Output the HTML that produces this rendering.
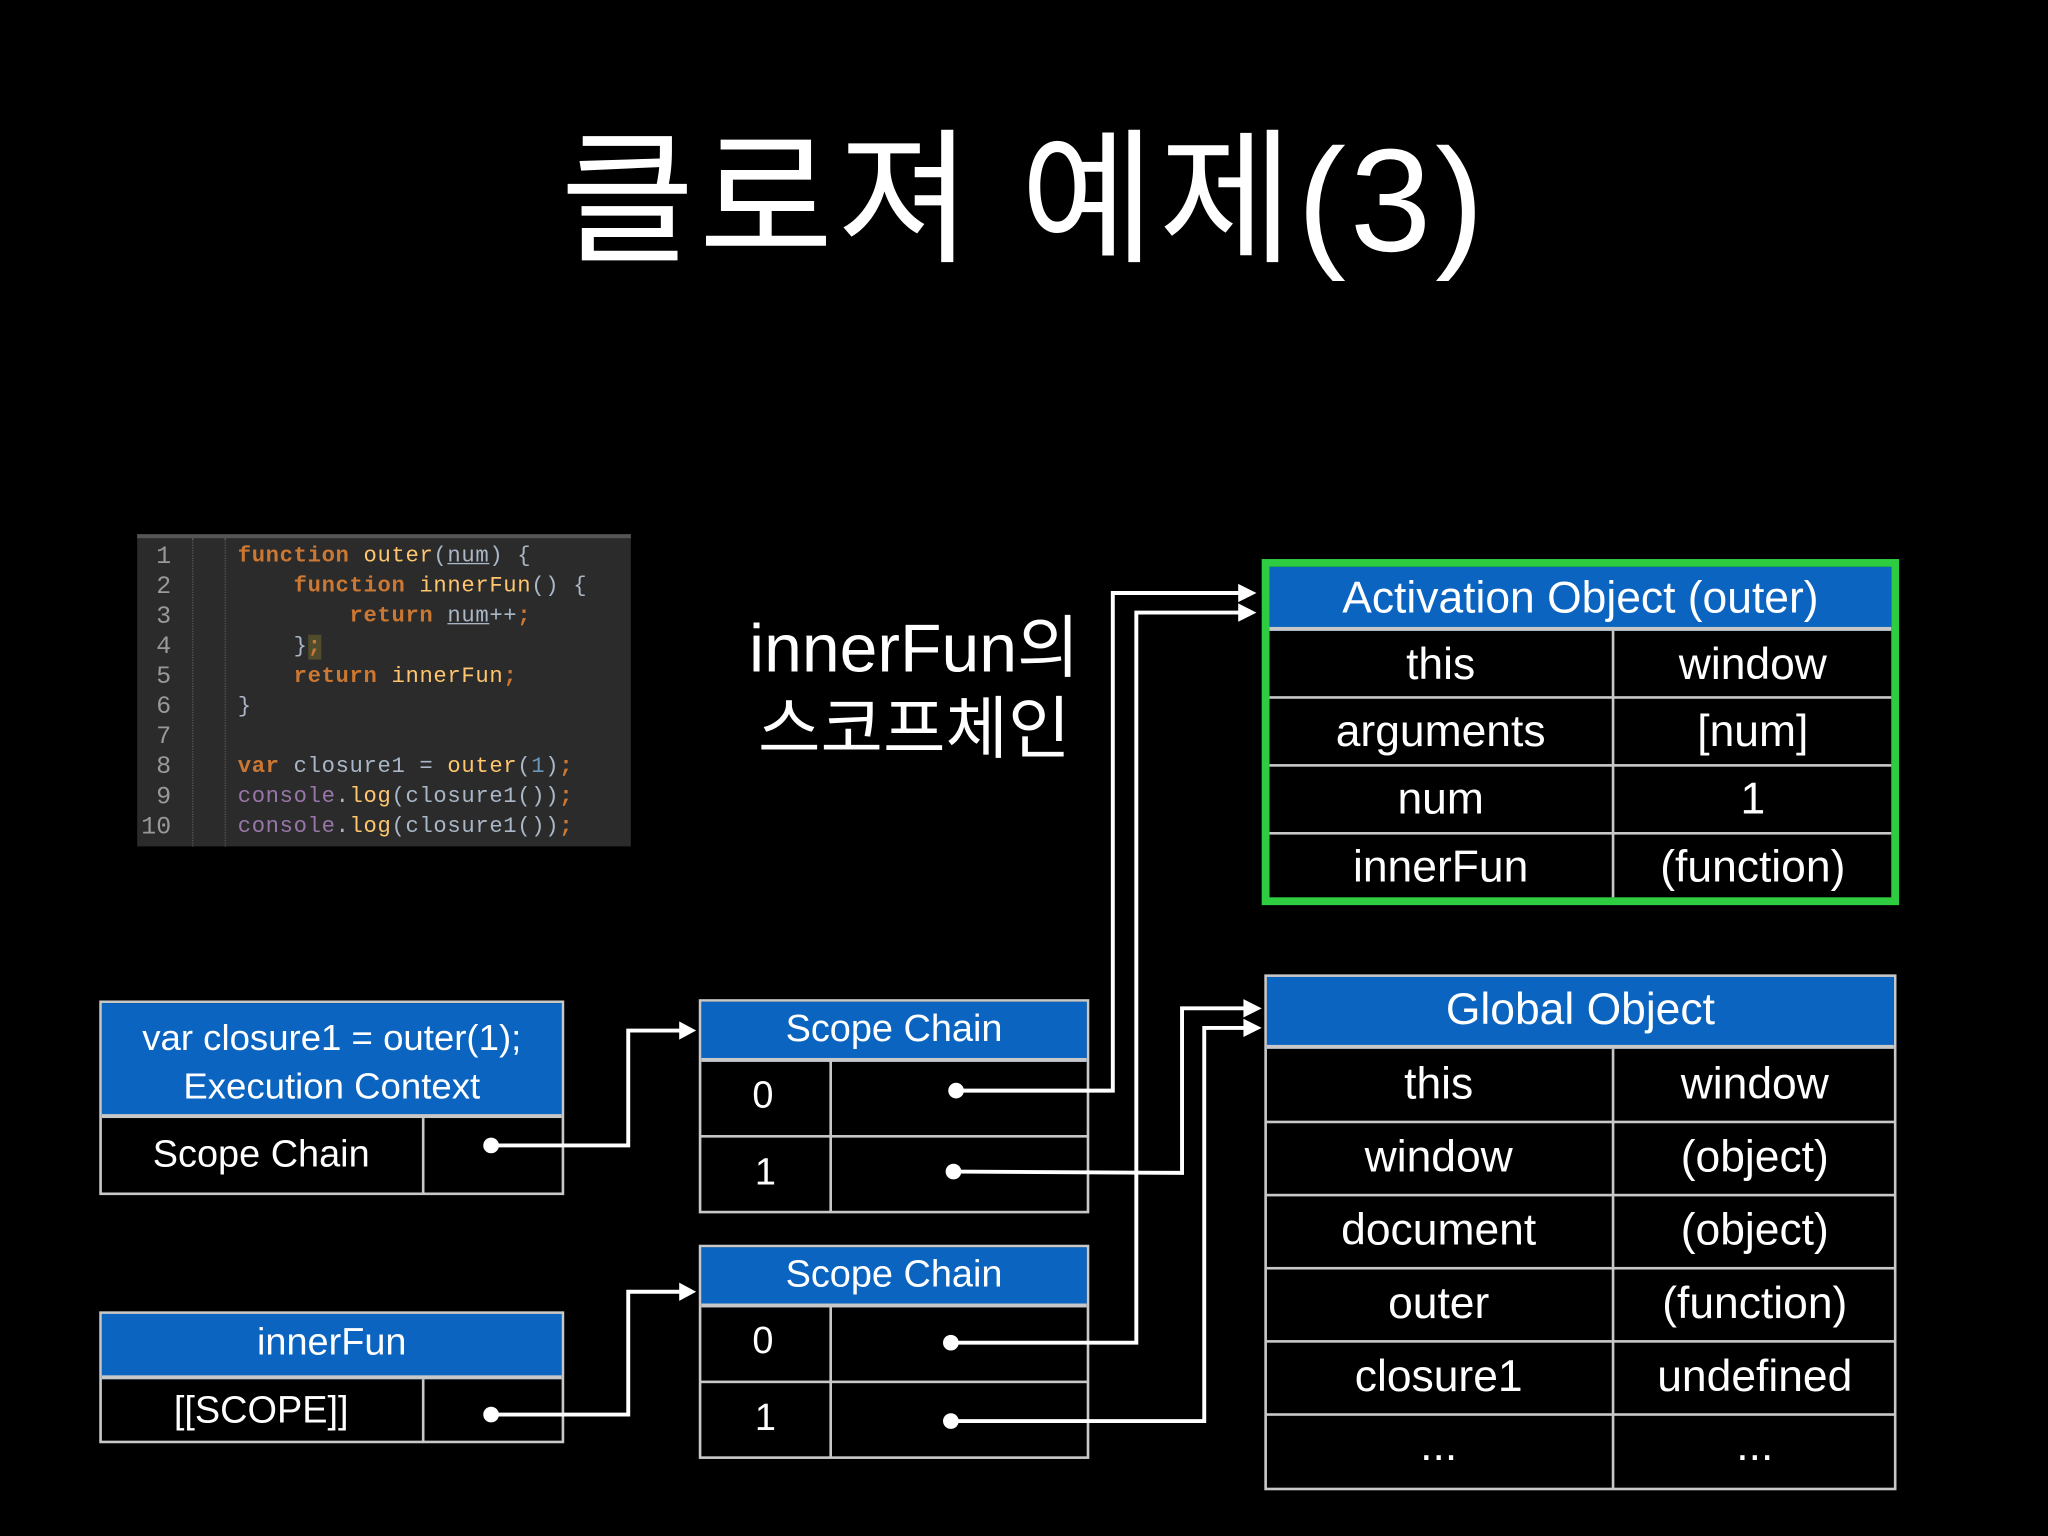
<!DOCTYPE html>
<html><head><meta charset="utf-8"><style>
html,body{margin:0;padding:0;background:#000;width:2048px;height:1536px;overflow:hidden}
#w{position:absolute;left:0;top:0;width:1568px;height:1176px;transform:scale(1.30612);transform-origin:0 0;font-family:"Liberation Sans","Noto Sans CJK KR",sans-serif;color:#fff}
.a{position:absolute}
.t{position:absolute;text-align:center;white-space:nowrap;line-height:1}
.hd{position:absolute;background:#0a64c0;border-bottom:3px solid #c8c8c8}
.bx{position:absolute;border:2px solid #c8c8c8;box-sizing:border-box}
.hl{position:absolute;height:2px;background:#c8c8c8}
.vl{position:absolute;width:2px;background:#c8c8c8}
.code{position:absolute;left:105px;top:409px;width:378px;height:239px;background:#2b2b2b;border-top:3px solid #555;box-sizing:border-box;font-family:"Liberation Mono",monospace;font-size:17px}
.code div{position:absolute;white-space:pre;line-height:23px}
.k{color:#cc7832;font-weight:bold}.f{color:#ffc66d}.p{color:#a9b7c6}.n{color:#6897bb}.c{color:#9876aa}
</style></head><body><div id="w">
<div class="t" style="left:0;width:1568px;top:98px;font-size:112px;letter-spacing:3px;font-weight:normal">클로져 예제(3)</div>

<div class="code">
<div style="left:0px;top:3px;color:#999;text-align:right;width:26px;font-size:19px">1
2
3
4
5
6
7
8
9
10</div>
<div class="a" style="left:42px;top:0;width:0;height:236px;border-left:1px dotted #555"></div>
<div class="a" style="left:67px;top:0;width:0;height:236px;border-left:1px dotted #555"></div>
<div style="left:77px;top:3px;letter-spacing:0.5px"><span class="k">function</span> <span class="f">outer</span><span class="p">(<u>num</u>) {</span>
<span class="k">    function</span> <span class="f">innerFun</span><span class="p">() {</span>
<span class="k">        return</span> <span class="p"><u>num</u>++</span><span class="k">;</span>
<span class="p">    }</span><span class="k" style="background:#514c2c">;</span>
<span class="k">    return</span> <span class="f">innerFun</span><span class="k">;</span>
<span class="p">}</span>

<span class="k">var</span> <span class="p">closure1 = </span><span class="f">outer</span><span class="p">(</span><span class="n">1</span><span class="p">)</span><span class="k">;</span>
<span class="c">console</span><span class="p">.</span><span class="f">log</span><span class="p">(closure1())</span><span class="k">;</span>
<span class="c">console</span><span class="p">.</span><span class="f">log</span><span class="p">(closure1())</span><span class="k">;</span></div>
</div>

<div class="t" style="left:540px;width:320px;top:466px;font-size:52px;line-height:62px">innerFun의<br>스코프체인</div>

<!-- Execution context -->
<div class="bx" style="left:76px;top:766px;width:356px;height:149px"></div>
<div class="hd" style="left:78px;top:768px;width:352px;height:85px"></div>
<div class="t" style="left:76px;width:356px;top:776px;font-size:28px;line-height:37px">var closure1 = outer(1);<br>Execution Context</div>
<div class="vl" style="left:323px;top:856px;height:58px"></div>
<div class="t" style="left:76px;width:248px;top:870px;font-size:29px">Scope Chain</div>

<!-- innerFun -->
<div class="bx" style="left:76px;top:1004px;width:356px;height:101px"></div>
<div class="hd" style="left:78px;top:1006px;width:352px;height:47px"></div>
<div class="t" style="left:76px;width:356px;top:1014px;font-size:29px">innerFun</div>
<div class="vl" style="left:323px;top:1056px;height:48px"></div>
<div class="t" style="left:76px;width:248px;top:1066px;font-size:29px">[[SCOPE]]</div>

<!-- Scope chain 1 -->
<div class="bx" style="left:535px;top:765px;width:299px;height:164px"></div>
<div class="hd" style="left:537px;top:767px;width:295px;height:43px"></div>
<div class="t" style="left:535px;width:299px;top:774px;font-size:29px">Scope Chain</div>
<div class="hl" style="left:536px;top:869px;width:297px"></div>
<div class="vl" style="left:635px;top:812px;height:116px"></div>
<div class="t" style="left:576px;top:825px;font-size:29px">0</div>
<div class="t" style="left:578px;top:884px;font-size:29px">1</div>

<!-- Scope chain 2 -->
<div class="bx" style="left:535px;top:953px;width:299px;height:164px"></div>
<div class="hd" style="left:537px;top:955px;width:295px;height:43px"></div>
<div class="t" style="left:535px;width:299px;top:962px;font-size:29px">Scope Chain</div>
<div class="hl" style="left:536px;top:1057px;width:297px"></div>
<div class="vl" style="left:635px;top:1000px;height:116px"></div>
<div class="t" style="left:576px;top:1013px;font-size:29px">0</div>
<div class="t" style="left:578px;top:1072px;font-size:29px">1</div>

<!-- Activation object -->
<div class="a" style="left:966px;top:428px;width:488px;height:265px;border:6px solid #2ecc40;box-sizing:border-box;background:#000"></div>
<div class="hd" style="left:972px;top:434px;width:476px;height:46px"></div>
<div class="t" style="left:972px;width:476px;top:441px;font-size:34px">Activation Object (outer)</div>
<div class="hl" style="left:972px;top:533px;width:476px"></div>
<div class="hl" style="left:972px;top:585px;width:476px"></div>
<div class="hl" style="left:972px;top:637px;width:476px"></div>
<div class="vl" style="left:1234px;top:483px;height:204px"></div>
<div class="t" style="left:972px;width:262px;top:492px;font-size:34px">this</div>
<div class="t" style="left:1236px;width:212px;top:492px;font-size:34px">window</div>
<div class="t" style="left:972px;width:262px;top:543px;font-size:34px">arguments</div>
<div class="t" style="left:1236px;width:212px;top:543px;font-size:34px">[num]</div>
<div class="t" style="left:972px;width:262px;top:595px;font-size:34px">num</div>
<div class="t" style="left:1236px;width:212px;top:595px;font-size:34px">1</div>
<div class="t" style="left:972px;width:262px;top:647px;font-size:34px">innerFun</div>
<div class="t" style="left:1236px;width:212px;top:647px;font-size:34px">(function)</div>

<!-- Global object -->
<div class="bx" style="left:968px;top:746px;width:484px;height:395px"></div>
<div class="hd" style="left:970px;top:748px;width:480px;height:52px"></div>
<div class="t" style="left:970px;width:480px;top:756px;font-size:34px">Global Object</div>
<div class="hl" style="left:969px;top:858px;width:482px"></div>
<div class="hl" style="left:969px;top:914px;width:482px"></div>
<div class="hl" style="left:969px;top:970px;width:482px"></div>
<div class="hl" style="left:969px;top:1026px;width:482px"></div>
<div class="hl" style="left:969px;top:1082px;width:482px"></div>
<div class="vl" style="left:1234px;top:803px;height:337px"></div>
<div class="t" style="left:969px;width:265px;top:813px;font-size:34px">this</div>
<div class="t" style="left:1236px;width:215px;top:813px;font-size:34px">window</div>
<div class="t" style="left:969px;width:265px;top:869px;font-size:34px">window</div>
<div class="t" style="left:1236px;width:215px;top:869px;font-size:34px">(object)</div>
<div class="t" style="left:969px;width:265px;top:925px;font-size:34px">document</div>
<div class="t" style="left:1236px;width:215px;top:925px;font-size:34px">(object)</div>
<div class="t" style="left:969px;width:265px;top:981px;font-size:34px">outer</div>
<div class="t" style="left:1236px;width:215px;top:981px;font-size:34px">(function)</div>
<div class="t" style="left:969px;width:265px;top:1037px;font-size:34px">closure1</div>
<div class="t" style="left:1236px;width:215px;top:1037px;font-size:34px">undefined</div>
<div class="t" style="left:969px;width:265px;top:1090px;font-size:34px">...</div>
<div class="t" style="left:1236px;width:215px;top:1090px;font-size:34px">...</div>

<svg class="a" style="left:0;top:0" width="1568" height="1176">
<g fill="none" stroke="#fff" stroke-width="3">
<polyline points="376,877 481,877 481,789 524,789"/>
<polyline points="376,1083 481,1083 481,989 524,989"/>
<polyline points="732,835 852,835 852,454 952,454"/>
<polyline points="730,897 905,898 905,772 956,772"/>
<polyline points="728,1028 870,1028 870,469 952,469"/>
<polyline points="728,1088 922,1088 922,787 956,787"/>
</g>
<g fill="#fff">
<circle cx="376" cy="877" r="6"/><circle cx="376" cy="1083" r="6"/>
<circle cx="732" cy="835" r="6"/><circle cx="730" cy="897" r="6"/>
<circle cx="728" cy="1028" r="6"/><circle cx="728" cy="1088" r="6"/>
<polygon points="520,782 533,789 520,796"/>
<polygon points="520,982 533,989 520,996"/>
<polygon points="948,447 962,454 948,461"/>
<polygon points="948,462 962,469 948,476"/>
<polygon points="952,765 966,772 952,779"/>
<polygon points="952,780 966,787 952,794"/>
</g>
</svg>
</div></body></html>
